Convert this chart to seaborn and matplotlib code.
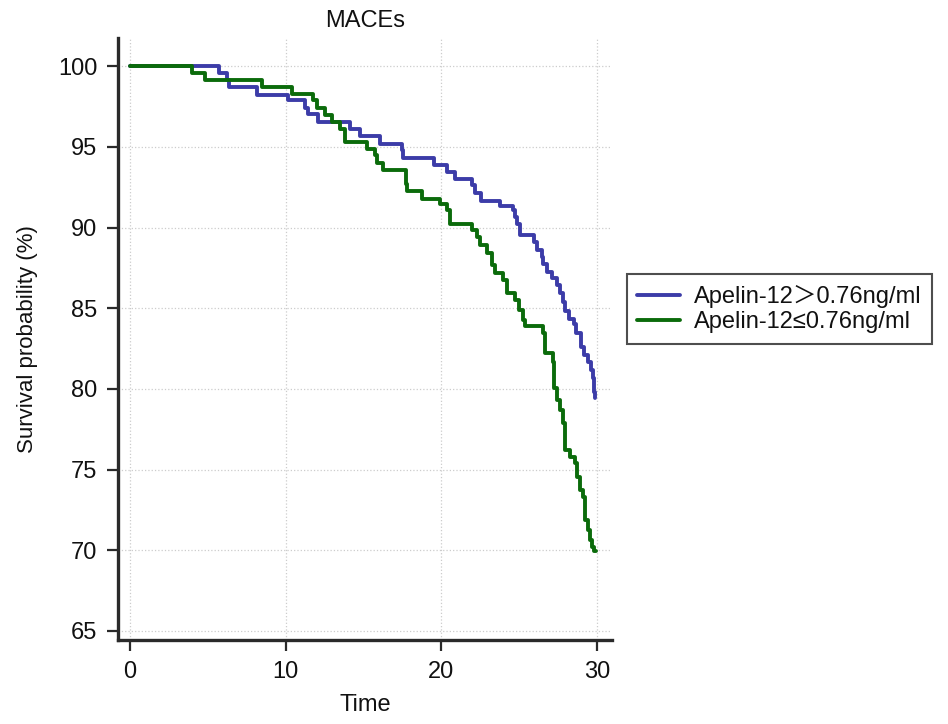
import pandas as pd
import seaborn as sns
from matplotlib import pyplot as plt
from matplotlib.lines import Line2D

# Kaplan-Meier steps (time, survival % after the step)
high_time = [0, 5.72, 6.25, 6.38, 8.14, 10.17, 11.24, 11.45, 12.10, 14.13, 14.77,
             16.06, 17.45, 17.55, 19.52, 20.38, 20.87, 21.94, 22.16, 22.52, 23.76,
             24.58, 24.73, 24.83, 25.05, 25.95, 26.12, 26.44, 26.55, 26.76, 27.08,
             27.40, 27.62, 27.83, 27.94, 28.20, 28.50, 28.65, 28.95, 29.15, 29.40,
             29.60, 29.75, 29.82, 29.88]
high_surv = [100, 99.59, 99.13, 98.72, 98.24, 97.89, 97.44, 97.03, 96.55, 96.10, 95.65,
             95.21, 94.80, 94.34, 93.91, 93.45, 93.04, 92.63, 92.15, 91.66, 91.33,
             91.12, 90.66, 90.25, 89.53, 89.11, 88.60, 88.18, 87.77, 87.26, 86.85,
             86.43, 85.92, 85.40, 84.85, 84.36, 84.00, 83.44, 82.61, 82.09, 81.68,
             81.16, 80.65, 79.82, 79.41]

low_time = [0, 3.96, 4.82, 8.46, 10.38, 11.77, 11.98, 12.5, 13.0, 13.5, 13.8,
            15.2, 15.74, 15.84, 16.27, 17.73, 17.77, 18.73, 19.91, 20.34, 20.55,
            21.94, 22.27, 22.48, 22.91, 23.23, 23.44, 23.98, 24.19, 24.73, 25.0,
            25.25, 25.37, 26.50, 26.65, 27.15, 27.23, 27.45, 27.62, 27.83, 27.94,
            28.26, 28.58, 28.69, 28.90, 29.12, 29.22, 29.44, 29.54, 29.65, 29.80,
            29.95]
low_surv = [100, 99.59, 99.13, 98.72, 98.28, 97.89, 97.40, 97.0, 96.55, 96.10, 95.31,
            94.90, 94.49, 94.01, 93.56, 92.73, 92.28, 91.80, 91.45, 91.12, 90.21,
            89.84, 89.42, 88.91, 88.40, 87.67, 87.16, 86.74, 85.92, 85.50, 84.90,
            84.30, 83.89, 83.44, 82.20, 81.68, 80.03, 79.31, 78.69, 77.86, 76.21,
            75.79, 75.38, 74.55, 73.73, 73.31, 71.87, 71.25, 70.63, 70.22, 69.95,
            69.95]

groups = ['Apelin-12＞0.76ng/ml', 'Apelin-12≤0.76ng/ml']
colors = ['#3c3ca8', '#0b6b0b']

df = pd.concat([
    pd.DataFrame({'Time': high_time, 'Surv': high_surv, 'grp': groups[0]}),
    pd.DataFrame({'Time': low_time, 'Surv': low_surv, 'grp': groups[1]}),
])

sns.set_style('white')
plt.rcParams['font.family'] = ['Liberation Sans', 'Noto Sans CJK SC', 'DejaVu Sans']
plt.rcParams['text.color'] = '#111111'
plt.rcParams['axes.labelcolor'] = '#111111'

fig = plt.figure(figsize=(9.48, 7.24), dpi=100)
ax = fig.add_axes([0.1245, 0.116, 0.5211, 0.8315])

sns.lineplot(data=df, x='Time', y='Surv', hue='grp', palette=colors,
             estimator=None, sort=False, drawstyle='steps-post',
             linewidth=2.8, legend=False, ax=ax)

ax.set_xlim(-0.77, 30.96)
ax.set_ylim(64.44, 101.75)
ax.set_xticks([0, 10, 20, 30])
ax.set_yticks(range(65, 101, 5))
ax.grid(True, linestyle=':', color='#cccccc', linewidth=0.9)

for s in ['top', 'right']:
    ax.spines[s].set_visible(False)
for s in ['left', 'bottom']:
    ax.spines[s].set_linewidth(2.4)
    ax.spines[s].set_color('#2a2a2a')
ax.tick_params(axis='both', direction='out', length=8, width=1.6,
               color='#2a2a2a', labelsize=17, pad=7, left=True, bottom=True,
               labelcolor='#111111')

ax.set_xlabel('Time', fontsize=17, labelpad=8)
ax.set_ylabel('Survival probability (%)', fontsize=16, labelpad=14)
ax.set_title('MACEs', fontsize=17, pad=8)

handles = [Line2D([], [], color=c, linewidth=2.8) for c in colors]
leg = fig.legend(handles, groups, loc='center left', bbox_to_anchor=(0.661, 0.573),
                 fontsize=17, frameon=True, fancybox=False, edgecolor='#222222',
                 handlelength=1.8, handletextpad=0.6, borderpad=0.45,
                 labelspacing=0.15, borderaxespad=0)
leg.get_frame().set_linewidth(1.5)

fig.savefig('out.png', dpi=100)
